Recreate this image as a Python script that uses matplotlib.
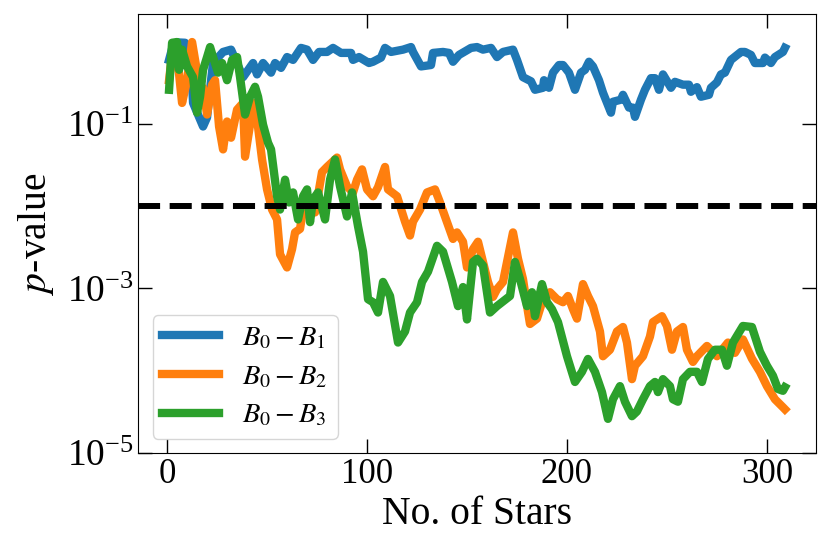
import numpy as np
import matplotlib
matplotlib.use("Agg")
import matplotlib.pyplot as plt
from matplotlib.ticker import NullLocator

plt.rcParams['font.family'] = ['Liberation Serif', 'DejaVu Serif']
plt.rcParams['mathtext.fontset'] = 'stix'

# B0 - B1
x_b1 = [1, 3, 5, 9, 12, 13, 18, 20, 22, 23, 28, 32, 38, 43, 45, 48, 52, 54, 57, 60,
        63, 67, 70, 73, 76, 80, 83, 87, 92, 93, 96, 101, 103, 107, 109, 112, 118, 122, 123, 127,
        132, 133, 138, 141, 143, 146, 152, 155, 158, 162, 165, 168, 173, 175, 178, 182, 184, 188, 188.5, 191,
        193, 196, 198, 201, 204, 207, 209, 211, 213, 216, 218, 222, 223, 227, 228, 231, 233, 234, 237, 239,
        242, 244, 246, 248, 252, 254, 258, 261, 262, 265, 267, 271, 272, 275, 277, 279, 282, 287, 289, 292,
        294, 298, 299, 302, 304, 308, 309]
p_b1 = [0.60, 0.91, 0.98, 0.97, 0.55, 0.18, 0.093, 0.12, 0.34, 0.55, 0.75, 0.80, 0.37, 0.55, 0.40, 0.55, 0.42, 0.55, 0.48, 0.65,
        0.60, 0.84, 0.80, 0.60, 0.75, 0.75, 0.84, 0.73, 0.73, 0.60, 0.65, 0.55, 0.57, 0.64, 0.84, 0.75, 0.80, 0.86, 0.75, 0.50,
        0.52, 0.73, 0.75, 0.73, 0.57, 0.69, 0.84, 0.86, 0.80, 0.84, 0.65, 0.75, 0.80, 0.60, 0.37, 0.33, 0.26, 0.275, 0.34, 0.275,
        0.42, 0.52, 0.52, 0.42, 0.26, 0.42, 0.455, 0.57, 0.50, 0.34, 0.24, 0.137, 0.186, 0.197, 0.226, 0.158, 0.158, 0.122, 0.197, 0.26,
        0.36, 0.36, 0.26, 0.40, 0.275, 0.325, 0.30, 0.30, 0.246, 0.28, 0.214, 0.226, 0.275, 0.32, 0.40, 0.42, 0.60, 0.75, 0.75, 0.69,
        0.55, 0.55, 0.64, 0.55, 0.65, 0.75, 0.84]

# B0 - B2
x_b2 = [1, 3, 5, 7.5, 10, 12.5, 15, 16, 18, 20, 22.5, 24, 26, 28, 30, 32, 35, 38, 39, 42.5,
        44, 47.5, 50, 52.5, 55, 56.5, 60, 62.5, 64, 66.5, 68, 71.5, 74, 77.5, 80, 85, 86.5, 90, 93, 95,
        97.5, 100, 103, 105.5, 109, 110.5, 115, 119, 121.5, 123, 126.5, 130, 134, 136.5, 140, 143, 145, 148, 150, 153,
        155.5, 158, 160.5, 163, 165, 168, 173, 175.5, 178, 180.5, 181.5, 185, 188, 191.5, 195, 198, 200.5, 203, 205, 208,
        210.5, 213, 216.5, 218, 221.5, 225, 228, 230, 232.5, 234, 238, 241.5, 243, 247.5, 250, 252.5, 255, 258, 260, 263,
        265, 270, 275, 280.5, 284, 288, 292.5, 296.5, 300, 304, 308, 309]
p_b2 = [0.34, 0.91, 0.69, 0.18, 0.34, 0.99, 0.43, 0.20, 0.275, 0.13, 0.30, 0.34, 0.093, 0.049, 0.107, 0.068, 0.149, 0.18, 0.040, 0.14,
        0.18, 0.037, 0.016, 0.0091, 0.0069, 0.0026, 0.0018, 0.0030, 0.0048, 0.0053, 0.0091, 0.012, 0.0084, 0.026, 0.030, 0.039, 0.028, 0.0174, 0.0147, 0.021,
        0.028, 0.016, 0.0132, 0.017, 0.030, 0.016, 0.0132, 0.0065, 0.0044, 0.0065, 0.0091, 0.0147, 0.016, 0.0111, 0.0064, 0.0040, 0.0048, 0.0037, 0.0018, 0.0030,
        0.0037, 0.0021, 0.0012, 0.00079, 0.00098, 0.0012, 0.0048, 0.0023, 0.0013, 0.00052, 0.00037, 0.00043, 0.00074, 0.0009, 0.00074, 0.00068, 0.00081, 0.00056, 0.00043, 0.00113,
        0.00081, 0.00061, 0.00030, 0.00015, 0.00018, 0.00030, 0.00034, 0.00022, 7.9e-5, 1.15e-4, 1.5e-4, 2.6e-4, 3.9e-4, 4.6e-4, 3.5e-4, 1.8e-4, 3.0e-4, 3.4e-4, 1.8e-4, 1.28e-4,
        1.5e-4, 2.0e-4, 1.5e-4, 2.2e-4, 1.65e-4, 2.4e-4, 1.4e-4, 9.7e-5, 6.5e-5, 4.5e-5, 3.6e-5, 3.4e-5]

# B0 - B3
x_b3 = [1, 2.5, 5, 6, 7.5, 10, 13, 15, 16.5, 18, 20, 21.5, 23, 25.5, 27.5, 30, 32.5, 35, 36.5, 39,
        41.5, 44, 45.5, 48, 50.5, 52, 55, 56.5, 59, 61, 63, 65.5, 68, 70, 71.5, 73, 75.5, 79, 81.5, 84,
        86.5, 90, 92.5, 95.5, 98, 100.5, 103, 105.5, 108, 111.5, 115.5, 119, 121.5, 125, 127.5, 130.5, 135, 138, 142.5, 145.5,
        148, 150, 153, 155, 158, 161.5, 165, 171.5, 174, 176.5, 180, 182.5, 184, 187.5, 190, 192.5, 195.5, 200, 204, 207.5,
        210.5, 214, 217.5, 220.5, 223, 226.5, 229, 232.5, 235, 238, 241.5, 244, 245.5, 248, 251.5, 253, 255.5, 258, 261.5, 265,
        267.5, 270.5, 274, 277.5, 280, 283, 288, 292.5, 296.5, 300, 303, 305.5, 308, 309]
p_b3 = [0.26, 0.97, 0.99, 0.455, 0.80, 0.50, 0.37, 0.137, 0.214, 0.455, 0.65, 0.86, 0.65, 0.42, 0.55, 0.34, 0.60, 0.65, 0.37, 0.13,
        0.214, 0.283, 0.214, 0.098, 0.059, 0.049, 0.0132, 0.0091, 0.021, 0.0111, 0.0147, 0.0069, 0.0132, 0.016, 0.0064, 0.0121, 0.0147, 0.0069, 0.021, 0.037,
        0.0174, 0.0075, 0.0147, 0.0057, 0.0028, 0.00074, 0.00068, 0.00051, 0.0012, 0.00081, 0.00022, 0.00030, 0.00051, 0.00068, 0.0012, 0.0016, 0.0033, 0.0028, 0.0012, 0.00061,
        0.00104, 0.00042, 0.0021, 0.0023, 0.0019, 0.00051, 0.00061, 0.00081, 0.0021, 0.0013, 0.00061, 0.0009, 0.00046, 0.00113, 0.00068, 0.00056, 0.00039, 0.00015, 7.3e-5, 9.7e-5,
        1.39e-4, 9.7e-5, 5.5e-5, 2.6e-5, 4.5e-5, 6.5e-5, 4.2e-5, 2.8e-5, 3.2e-5, 4.5e-5, 6.5e-5, 7.3e-5, 5.5e-5, 7.9e-5, 6.5e-5, 4.5e-5, 4.2e-5, 7.9e-5, 9.7e-5, 9.7e-5,
        7.3e-5, 1.39e-4, 1.8e-4, 1.8e-4, 1.15e-4, 2.2e-4, 3.5e-4, 3.4e-4, 1.7e-4, 1.15e-4, 8.7e-5, 6.0e-5, 5.7e-5, 6.3e-5]

threshold = 0.01

fig = plt.figure(figsize=(8.3, 5.55), dpi=100)
ax = fig.add_axes([0.1666, 0.1838, 0.8162, 0.791])

lw = 6
ax.plot(x_b1, p_b1, color='C0', lw=lw, label=r'$B_0-B_1$')
ax.plot(x_b2, p_b2, color='C1', lw=lw, label=r'$B_0-B_2$')
ax.plot(x_b3, p_b3, color='C2', lw=lw, label=r'$B_0-B_3$')
ax.axhline(threshold, color='k', ls='--', lw=4.3)

ax.set_yscale('log')
ax.set_ylim(1e-5, 2.17)
ax.set_xlim(-14.4, 324.4)
ax.set_yticks([1e-5, 1e-3, 1e-1])
ax.yaxis.set_minor_locator(NullLocator())
ax.set_xticks([0, 100, 200, 300])

ax.tick_params(direction='in', top=True, right=True, length=10, width=1.0)
ax.tick_params(axis='x', labelsize=25)
ax.tick_params(axis='y', labelsize=27)
ax.set_xlabel('No. of Stars', fontsize=28.5)
ax.set_ylabel(r'$p$-value', fontsize=28.5, labelpad=8)

ax.legend(loc='lower left', fontsize=20.5, handlelength=2.0, labelspacing=0.45,
          borderpad=0.35, borderaxespad=0.5)

fig.savefig('out.png', dpi=100)
